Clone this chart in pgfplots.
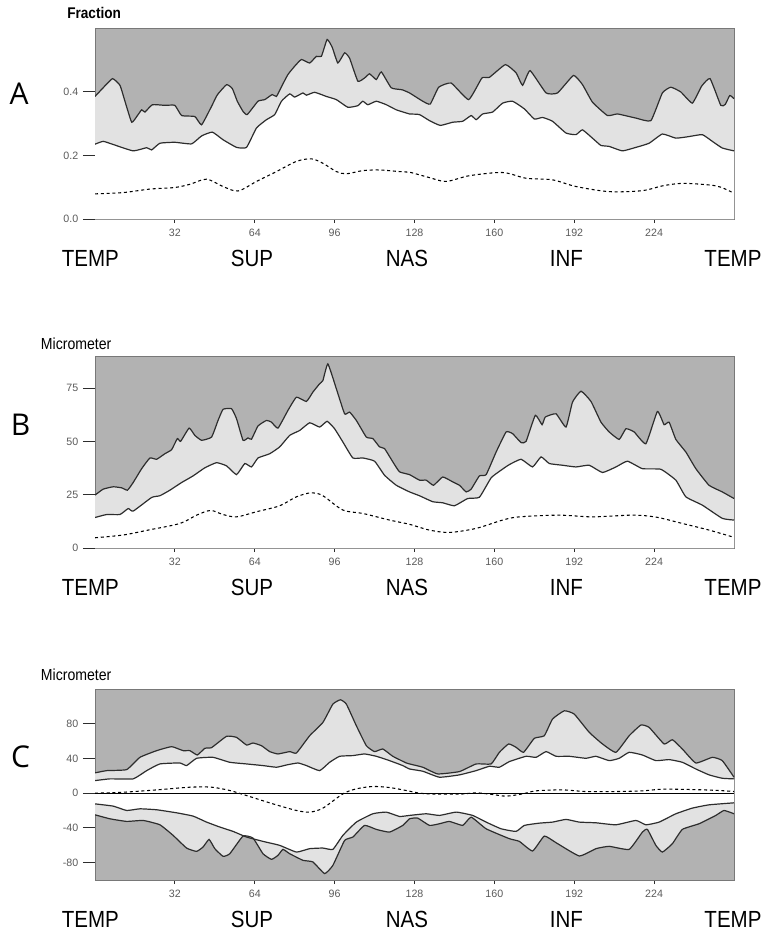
\documentclass[border=0pt]{standalone}
\usepackage{fontspec}
\setmainfont{Liberation Sans}
\newfontfamily\catfont[FakeStretch=0.88]{Liberation Sans}
\newfontfamily\unitfont[FakeStretch=0.88]{Liberation Sans}
\newfontfamily\letterfont{Open Sans}
\usepackage{pgfplots}
\usepackage{pgfplotstable}
\pgfplotsset{compat=1.18}

\definecolor{bgdark}{RGB}{178,178,178}
\definecolor{bglight}{RGB}{226,226,226}
\definecolor{framegray}{RGB}{120,120,120}
\definecolor{linec}{RGB}{45,45,45}
\definecolor{ticklab}{RGB}{90,90,90}

% panel A (fraction)
\pgfplotstableread{
x y
0 0.385
3 0.410
7 0.441
10 0.420
12 0.370
14.7 0.304
17 0.325
18.7 0.343
20 0.336
23 0.359
28 0.357
32 0.357
34.7 0.325
40 0.322
42.7 0.296
46.7 0.354
49 0.390
52.7 0.422
55 0.410
57 0.370
59.3 0.338
61 0.328
65.3 0.370
68 0.375
71 0.391
72.7 0.385
75 0.420
77.3 0.454
80 0.480
82.7 0.501
86 0.490
88.7 0.511
90.7 0.511
93 0.564
95 0.540
97.3 0.490
100 0.522
102 0.505
105.3 0.433
108 0.443
110 0.456
112.7 0.438
114.7 0.462
118.7 0.412
123 0.406
126 0.396
131.3 0.370
134.3 0.361
137.7 0.414
142.7 0.427
149.7 0.375
155 0.443
158 0.445
164.4 0.485
168.7 0.459
171.3 0.420
174.3 0.466
180.7 0.396
185.3 0.396
191.7 0.451
195.3 0.422
199.3 0.367
205.3 0.325
209.3 0.330
216.7 0.317
222.7 0.309
227.3 0.396
230.7 0.414
234.7 0.399
239.3 0.364
243 0.417
246.4 0.441
250.7 0.357
252.5 0.360
254.3 0.388
256 0.378
}\Aup
\pgfplotstableread{
x y
0 0.235
3.3 0.244
7.3 0.234
15.3 0.214
20.7 0.224
22.7 0.217
26 0.238
32 0.241
38.7 0.236
42.7 0.261
47 0.273
51.3 0.249
56.7 0.225
60.7 0.225
64.7 0.286
68.7 0.312
72 0.328
74.7 0.370
78 0.393
80 0.383
83.3 0.396
84.7 0.389
88 0.398
92.7 0.385
96.7 0.375
101.3 0.351
105.3 0.356
107.3 0.370
109.3 0.359
112.7 0.370
116.7 0.359
120.7 0.343
124.7 0.333
126 0.330
130 0.328
134 0.309
138.3 0.294
143.3 0.304
147.3 0.307
150.7 0.325
152.7 0.312
155.3 0.330
159.3 0.336
163.3 0.364
167.3 0.370
172 0.346
176 0.314
179.3 0.319
183.3 0.307
188.7 0.270
192.7 0.265
195.3 0.280
200 0.249
202.7 0.231
206 0.228
211.3 0.214
216.7 0.225
222 0.238
227.3 0.267
232.7 0.254
238 0.259
243.3 0.265
247.3 0.244
251.3 0.223
256 0.214
}\Alo
\pgfplotstableread{
x y
0 0.079
11.3 0.083
22 0.094
32 0.099
38 0.109
44.7 0.125
51.3 0.102
57.3 0.088
64.7 0.118
72.7 0.149
80.7 0.181
86.7 0.189
91.3 0.175
96.7 0.149
100.7 0.142
107.3 0.152
114 0.154
122 0.149
126 0.147
134 0.130
140.7 0.118
150 0.136
163.3 0.146
172.7 0.128
183.3 0.123
192.7 0.102
206 0.086
219.3 0.089
227.3 0.104
235.3 0.112
246 0.107
250.7 0.100
256 0.081
}\Amean

% panel B (micrometer)
\pgfplotstableread{
x y
0 24.8
3.3 27.6
7.3 28.7
10.7 28.2
13 27.1
15.3 30.7
18.7 37.2
22 42.2
24.7 41.6
28 44.2
30.7 46.1
33 51.3
34.3 50.0
37.7 56.2
40 52.8
42.7 50.5
46.7 52.0
49.3 59.8
51.3 65.0
54.7 65.3
56.7 60.6
59.3 50.5
61.3 51.6
62.7 51.0
65.3 57.2
68.7 59.8
70.7 59.0
73.3 56.2
77.3 64.5
80.7 70.7
84.7 68.7
87.3 73.1
90 77.0
91.3 78.5
93.3 86.3
96.7 74.6
100 62.9
102 63.7
104.7 59.8
108.7 52.0
111.3 51.3
114 47.4
116 46.6
119.3 40.4
122 35.7
126 34.4
130 31.8
132.7 31.8
135.6 29.4
139.3 33.3
143.3 31.0
146 29.4
148.7 26.3
150.7 27.6
154 33.8
156.7 34.4
160.7 45.0
164.7 54.4
167.3 53.6
170.7 49.4
172.7 50.0
176.4 62.2
179.1 57.8
180.4 61.4
184.7 62.9
188.7 56.7
191.3 68.4
194.7 73.5
198.7 68.7
202.7 59.0
206 54.4
210 50.9
212.7 55.9
216 54.4
220.7 48.9
225.3 64.0
228 57.8
230 59.0
232.7 50.9
236.7 45.0
240.7 37.2
246 29.4
251.3 26.3
256 23.2
}\Bup
\pgfplotstableread{
x y
0 14.3
4.7 15.7
10 15.7
13.3 18.5
15.3 17.3
22.7 23.7
26 24.5
30 27.1
34.7 30.7
39.3 33.8
44 37.6
48.7 40.0
52.7 38.5
56.7 34.4
60 39.6
62.7 38.0
65.3 42.2
70 44.2
74 47.4
78 52.8
82 55.1
86 58.7
90 56.7
93 59.4
96 55.9
99.3 49.7
103.3 42.2
107.3 42.2
112 40.7
116 34.1
120.7 29.4
126 26.3
130 24.5
135.3 21.7
139.3 21.2
144 19.8
149.3 23.2
154 23.8
158.7 32.9
162.7 36.5
166 39.1
170.7 41.6
175.3 38.0
178.7 42.7
182 39.6
187.3 38.8
192.7 38.0
198 38.8
203.3 35.4
208.7 38.0
213.3 40.7
219.3 37.2
226.7 36.9
232.7 31.8
236.7 24.0
243.3 20.1
251.3 13.9
256 13.1
}\Blo
\pgfplotstableread{
x y
0 4.8
11.3 6.1
21.3 8.4
34 11.5
40.7 15.4
46.3 17.6
51.3 15.7
56.7 14.6
64.7 17.0
74 19.8
80.7 24.0
86.7 25.9
91.3 24.5
99.3 17.8
107.3 16.2
118 13.1
126 11.1
134 8.4
142 7.3
152.7 9.2
163.3 13.1
170 14.6
186 15.4
199.3 14.6
215.3 15.4
224.7 14.5
235.3 11.5
246 8.4
256 5.0
}\Bmean

% panel C (micrometer, signed)
\pgfplotstableread{
x y
0 23.4
4.7 26.0
12.7 27.2
18 41.3
24.7 49.0
30.7 53.6
35.3 49.0
38 49.0
41 44.0
44 51.7
46.7 52.5
52.7 65.5
56.7 64.3
60.7 55.5
63.3 57.8
66.7 54.7
70 47.9
73.3 45.2
78 47.9
80.7 46.3
86 66.2
91.3 81.5
95.3 102.6
98.3 107.6
100.7 102.6
104.7 77.7
108.7 54.7
112 47.9
115.3 50.9
119.3 42.5
124.7 34.8
126 33.7
131.3 29.9
137.3 22.2
146 24.9
152.7 33.7
158.7 33.7
162 47.1
165.7 56.7
168.7 52.8
171.7 47.1
176 63.2
180 66.2
183.3 85.4
188 94.9
192 91.1
198 70.1
203.3 56.7
208.7 47.1
214 66.2
218.7 78.5
222 75.8
228 56.7
231.3 61.6
235.3 50.9
240.7 34.8
247.3 41.3
251.3 37.5
256 18.4
}\Cuo
\pgfplotstableread{
x y
0 14.5
6 16.5
15.3 16.5
20.7 26.0
26 33.7
34 34.8
36.7 31.8
40.7 40.2
47.3 41.3
54 35.6
60.7 33.7
67.3 31.8
72.7 29.9
76.7 32.5
81.3 34.8
84.7 31.8
90 26.0
94 35.6
98 42.5
103.3 43.3
108 45.2
112.7 42.5
118 37.5
123.3 31.8
126 27.9
131.3 25.3
138 18.4
146 21.1
152.7 26.0
158 31.0
162 29.9
166 36.4
172.7 42.5
176.7 41.3
180.7 47.9
184.7 42.5
190 42.5
196.7 40.2
200.7 42.5
206 37.5
210 40.2
214 47.1
219.3 44.0
224.7 37.5
230 38.7
235.3 35.6
240.7 27.9
246 21.1
251.3 17.2
256 16.5
}\Cui
\pgfplotstableread{
x y
0 -12.3
7.3 -14.9
12.7 -19.9
18 -18.0
24.7 -19.1
32.7 -22.6
39.3 -26.4
44.7 -33.3
50 -39.0
55.3 -44.0
60.7 -50.5
67.3 -55.5
74 -60.1
80.7 -67.8
86 -63.9
91.3 -63.2
95.3 -64.7
99.3 -48.6
104.7 -33.3
111.3 -23.7
116.7 -21.8
122 -26.8
126 -25.6
132.7 -23.7
138 -25.6
144.7 -21.8
151.3 -25.6
156.7 -33.3
162.7 -41.0
168.7 -44.0
172 -37.1
178 -34.5
183.3 -33.3
188.7 -30.2
194 -33.3
200.7 -34.1
208.7 -36.4
216.7 -31.4
220.7 -36.4
226 -33.3
232.7 -23.7
239.3 -17.2
246 -13.4
256 -11.1
}\Cli
\pgfplotstableread{
x y
0 -24.9
6 -29.5
12.7 -32.5
19.3 -31.4
26 -36.4
31.3 -48.6
36.7 -63.2
40.7 -67.0
43.3 -62.0
45.7 -53.2
48 -63.9
51.3 -72.7
54 -69.7
59.3 -49.4
63.3 -51.7
67.3 -69.7
70.7 -76.2
73.3 -71.6
75.3 -64.7
78 -69.7
83.3 -77.3
87.3 -79.2
92 -92.6
95.3 -83.1
100 -54.4
103.3 -50.5
108 -37.1
112.7 -41.7
118 -44.8
123.3 -37.1
126 -29.5
129.3 -28.7
134 -37.1
138 -35.2
142 -32.5
147.3 -37.1
150.7 -27.6
156.7 -41.0
166 -52.4
170 -55.5
175.3 -66.6
180 -49.4
184.7 -57.0
194 -72.3
200.7 -63.9
206 -61.2
214 -64.7
219.3 -44.8
221.3 -41.7
224.7 -60.1
227.3 -67.8
231.3 -58.2
235.3 -41.7
242 -35.2
248.7 -25.6
252 -19.9
256 -23.7
}\Clo
\pgfplotstableread{
x y
0 0
11.3 1.1
24.7 3.8
38 6.9
46.7 6.9
54 3.1
60.7 -2.7
71.3 -12.3
80.7 -19.9
86 -21.8
91.3 -17.2
99.3 -0.8
104.7 5.0
111.3 7.7
118 6.5
124.7 3.1
129.3 0.4
134 -0.8
146 -1.1
152.7 0.4
159.3 -1.5
164.7 -3.4
171.3 -0.8
176.7 2.7
187.3 3.8
196.7 1.9
208.7 1.9
219.3 2.7
227.3 4.6
239.3 4.2
250 3.1
256 1.9
}\Cmean

\pgfplotsset{
  panel/.style={
    scale only axis,
    width=479.25pt,
    anchor=south west,
    xmin=0, xmax=256,
    xtick={32,64,96,128,160,192,224},
    axis background/.style={fill=bgdark},
    axis line style={draw=framegray, line width=0.75pt},
    tick align=outside,
    tick pos=left,
    major tick length=9pt,
    tick style={draw=linec, line width=0.75pt},
    xtick style={/pgfplots/major tick length=3pt},
    ticklabel style={font=\fontsize{8}{9}\selectfont, text=ticklab},
    xticklabel style={yshift=5.25pt},
    /pgf/number format/assume math mode=true,
    clip mode=individual,
  },
  band/.style={fill=bglight, draw=none},
  hole/.style={fill=white, draw=none},
  edge/.style={draw=linec, line width=0.9pt, smooth, tension=0.25},
  mean/.style={draw=black, line width=0.8pt, dash pattern=on 2.25pt off 2.1pt, smooth},
}
\tikzset{cat/.style={anchor=base, font=\catfont\fontsize{17.5}{20}\selectfont}}

\begin{document}
\begin{tikzpicture}
\path (0,0) rectangle (578.25pt,-700.5pt);

% ---- A ----
\begin{axis}[panel, at={(71.25pt,-164.25pt)}, height=143.25pt,
  ymin=0, ymax=0.6, ytick={0,0.2,0.4},
  yticklabel style={/pgf/number format/.cd, fixed, fixed zerofill, precision=1}]
\addplot[band, smooth, tension=0.25] table {\Aup} \closedcycle;
\addplot[hole, smooth, tension=0.25] table {\Alo} \closedcycle;
\addplot[edge] table {\Aup};
\addplot[edge] table {\Alo};
\addplot[mean] table {\Amean};
\node[cat] at ([yshift=-35.25pt]rel axis cs:-0.0073,0) {TEMP};
\node[cat] at ([yshift=-35.25pt]rel axis cs:0.2457,0) {SUP};
\node[cat] at ([yshift=-35.25pt]rel axis cs:0.4882,0) {NAS};
\node[cat] at ([yshift=-35.25pt]rel axis cs:0.7376,0) {INF};
\node[cat] at ([yshift=-35.25pt]rel axis cs:0.9984,0) {TEMP};
\end{axis}

% ---- B ----
\begin{axis}[panel, at={(71.25pt,-411pt)}, height=144pt,
  ymin=0, ymax=90, ytick={0,25,50,75}]
\addplot[band, smooth, tension=0.25] table {\Bup} \closedcycle;
\addplot[hole, smooth, tension=0.25] table {\Blo} \closedcycle;
\addplot[edge] table {\Bup};
\addplot[edge] table {\Blo};
\addplot[mean] table {\Bmean};
\node[cat] at ([yshift=-35.25pt]rel axis cs:-0.0073,0) {TEMP};
\node[cat] at ([yshift=-35.25pt]rel axis cs:0.2457,0) {SUP};
\node[cat] at ([yshift=-35.25pt]rel axis cs:0.4882,0) {NAS};
\node[cat] at ([yshift=-35.25pt]rel axis cs:0.7376,0) {INF};
\node[cat] at ([yshift=-35.25pt]rel axis cs:0.9984,0) {TEMP};
\end{axis}

% ---- C ----
\begin{axis}[panel, at={(71.25pt,-660pt)}, height=143.25pt,
  ymin=-100, ymax=120, ytick={-80,-40,0,40,80}]
\addplot[band, smooth, tension=0.25] table {\Cuo} \closedcycle;
\addplot[hole, smooth, tension=0.25] table {\Cui} \closedcycle;
\addplot[band, smooth, tension=0.25] table {\Clo} \closedcycle;
\addplot[hole, smooth, tension=0.25] table {\Cli} \closedcycle;
\addplot[edge] table {\Cuo};
\addplot[edge] table {\Cui};
\addplot[edge] table {\Cli};
\addplot[edge] table {\Clo};
\addplot[draw=black, line width=0.75pt] coordinates {(0,0) (256,0)};
\addplot[mean] table {\Cmean};
\node[cat] at ([yshift=-35.25pt]rel axis cs:-0.0073,0) {TEMP};
\node[cat] at ([yshift=-35.25pt]rel axis cs:0.2457,0) {SUP};
\node[cat] at ([yshift=-35.25pt]rel axis cs:0.4882,0) {NAS};
\node[cat] at ([yshift=-35.25pt]rel axis cs:0.7376,0) {INF};
\node[cat] at ([yshift=-35.25pt]rel axis cs:0.9984,0) {TEMP};
\end{axis}

% axis titles and panel letters
\node[anchor=base west, inner sep=0pt, font=\unitfont\bfseries\fontsize{11.6}{13}\selectfont] at (50.25pt,-14.25pt) {Fraction};
\node[anchor=base west, inner sep=0pt, font=\unitfont\fontsize{12}{14}\selectfont] at (30.5pt,-262pt) {Micrometer};
\node[anchor=base west, inner sep=0pt, font=\unitfont\fontsize{12}{14}\selectfont] at (30.5pt,-510pt) {Micrometer};
\node[anchor=base, inner sep=0pt, font=\letterfont\fontsize{22.5}{26}\selectfont] at (14.25pt,-78.75pt) {A};
\node[anchor=base, inner sep=0pt, font=\letterfont\fontsize{22.5}{26}\selectfont] at (15.4pt,-326.25pt) {B};
\node[anchor=base, inner sep=0pt, font=\letterfont\fontsize{22.5}{26}\selectfont] at (15.4pt,-575.25pt) {C};
\end{tikzpicture}
\end{document}
